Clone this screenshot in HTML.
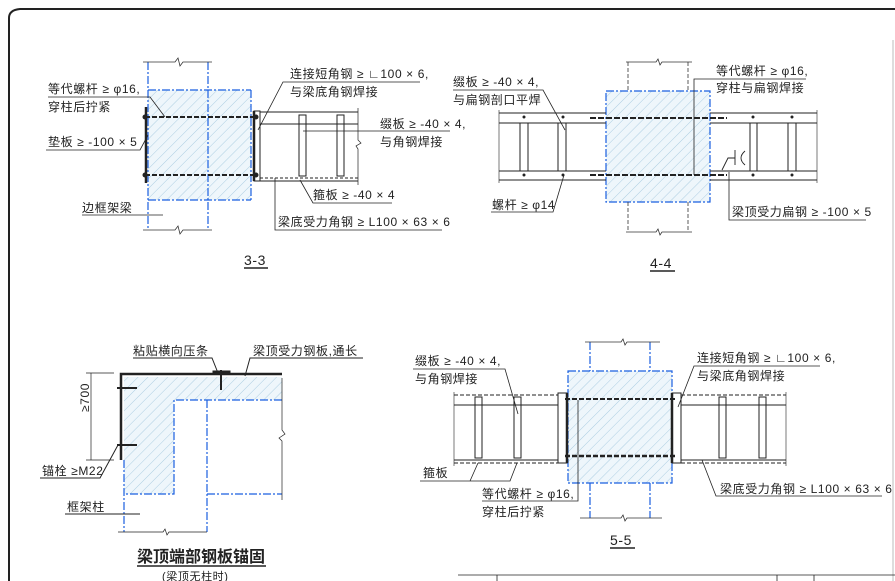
<!DOCTYPE html>
<html><head><meta charset="utf-8"><style>
html,body{margin:0;padding:0;background:#fff;}
svg{display:block;}
text{font-family:"Liberation Sans","Noto Sans CJK SC",sans-serif;font-size:12px;fill:#222;letter-spacing:0.6px;}
</style></head><body>
<svg width="895" height="581" viewBox="0 0 895 581" xmlns="http://www.w3.org/2000/svg">
<defs>
<pattern id="h" width="7" height="7" patternUnits="userSpaceOnUse" patternTransform="rotate(45)">
<rect width="7" height="7" fill="#eef6fb"/><line x1="0" y1="0" x2="0" y2="7" stroke="#9cc4dc" stroke-width="0.8"/>
</pattern>
</defs>
<g fill="none" stroke="#222">
<path d="M9 581 V18 Q9 10 20 9 H895" stroke-width="2"/>
<line x1="893" y1="40" x2="893" y2="581" stroke="#bbb"/>
</g>

<!-- 3-3 -->
<rect x="148" y="90" width="103" height="110" fill="url(#h)"/>
<g fill="none" stroke="#1a5fe0" stroke-width="1.2" stroke-dasharray="8 2 2 2">
<line x1="148" y1="62" x2="148" y2="230"/><line x1="208" y1="62" x2="208" y2="230"/>
<line x1="148" y1="90" x2="251" y2="90"/><line x1="148" y1="200" x2="251" y2="200"/>
<line x1="251" y1="90" x2="251" y2="200"/>
</g>
<g fill="none" stroke="#333" stroke-width="0.8">
<path d="M143 62 H175 L178 58 L180 66 L183 62 H212"/>
<path d="M143 230 H175 L178 226 L180 234 L183 230 H212"/>
</g>
<g stroke="#222" fill="none">
<line x1="146" y1="107" x2="146" y2="183" stroke-width="2.5"/>
<line x1="254" y1="111" x2="254" y2="181" stroke-width="2.5"/>
<rect x="254" y="111" width="6" height="70" stroke-width="1"/>
<line x1="145" y1="117" x2="256" y2="117" stroke-width="2" stroke-dasharray="5 2"/>
<line x1="145" y1="175" x2="256" y2="175" stroke-width="2" stroke-dasharray="5 2"/>
<line x1="260" y1="112" x2="358" y2="112"/><line x1="260" y1="124" x2="358" y2="124"/>
<line x1="260" y1="178" x2="358" y2="178" stroke-dasharray="3 2"/><line x1="260" y1="181" x2="358" y2="181"/>
<rect x="299" y="115" width="7" height="61"/><rect x="337" y="115" width="7" height="61"/>
<path d="M358 108 V140 L361 143 L356 146 L358 149 V185" stroke-width="0.7"/>
</g>
<circle cx="145" cy="117" r="2.5" fill="#222"/><circle cx="145" cy="175" r="2.5" fill="#222"/>
<circle cx="256" cy="117" r="2.5" fill="#222"/><circle cx="256" cy="175" r="2.5" fill="#222"/>
<g stroke="#222" stroke-width="0.8" fill="none">
<path d="M48 97 H150 L165 117"/><path d="M46 150 H140 L148 135"/><path d="M82 215 H163"/>
<path d="M420 82 H283 L258 130"/><path d="M450 131 H303"/><path d="M392 203 H313 L300 180"/>
<path d="M442 230 H275 V178"/><path d="M244 268 H268" stroke-width="1.5"/>
</g>
<text x="48" y="93">等代螺杆 ≥ φ16,</text><text x="48" y="111">穿柱后拧紧</text>
<text x="48" y="146">垫板 ≥ -100 × 5</text><text x="82" y="212">边框架梁</text>
<text x="290" y="78">连接短角钢 ≥ ∟100 × 6,</text><text x="290" y="96">与梁底角钢焊接</text>
<text x="380" y="128">缀板 ≥ -40 × 4,</text><text x="380" y="146">与角钢焊接</text>
<text x="313" y="199">箍板 ≥ -40 × 4</text><text x="278" y="226">梁底受力角钢 ≥ L100 × 63 × 6</text>
<text x="244" y="265" style="font-size:14px">3-3</text>

<!-- 4-4 -->
<rect x="606" y="91" width="104" height="111" fill="url(#h)"/>
<g fill="none" stroke="#1a5fe0" stroke-width="1.2" stroke-dasharray="8 2 2 2"><rect x="606" y="91" width="104" height="111"/></g>
<g fill="none" stroke="#333" stroke-width="0.8" stroke-dasharray="4 2">
<line x1="628" y1="62" x2="628" y2="91"/><line x1="688" y1="62" x2="688" y2="91"/>
<line x1="628" y1="202" x2="628" y2="232"/><line x1="688" y1="202" x2="688" y2="232"/>
</g>
<g fill="none" stroke="#333" stroke-width="0.8">
<path d="M626 62 H656 L658 59 L660 65 L662 62 H692"/><path d="M626 232 H656 L658 229 L660 235 L662 232 H692"/>
</g>
<g stroke="#222" fill="none">
<line x1="499" y1="113" x2="606" y2="113"/><line x1="499" y1="123" x2="606" y2="123"/>
<line x1="499" y1="171" x2="606" y2="171"/><line x1="499" y1="180" x2="606" y2="180"/>
<line x1="710" y1="113" x2="817" y2="113"/><line x1="710" y1="123" x2="817" y2="123"/>
<line x1="710" y1="171" x2="817" y2="171"/><line x1="710" y1="180" x2="817" y2="180"/>
<line x1="520" y1="123" x2="520" y2="171"/><line x1="528" y1="123" x2="528" y2="171"/>
<line x1="558" y1="123" x2="558" y2="171"/><line x1="566" y1="123" x2="566" y2="171"/>
<line x1="750" y1="123" x2="750" y2="171"/><line x1="757" y1="123" x2="757" y2="171"/>
<line x1="788" y1="123" x2="788" y2="171"/><line x1="796" y1="123" x2="796" y2="171"/>
<line x1="499" y1="110" x2="499" y2="183" stroke-width="0.6"/><line x1="817" y1="110" x2="817" y2="183" stroke-width="0.6"/>
<line x1="590" y1="118" x2="727" y2="118" stroke-width="2" stroke-dasharray="6 2"/>
<line x1="590" y1="175" x2="727" y2="175" stroke-width="2" stroke-dasharray="6 2"/>
<path d="M735 150 V165 M745 151 Q737 158 745 165 M735 158 H728 L722 170" stroke-width="0.9"/>
</g>
<g fill="#222"><circle cx="524" cy="117" r="1.5"/><circle cx="563" cy="117" r="1.5"/><circle cx="753" cy="117" r="1.5"/><circle cx="792" cy="117" r="1.5"/>
<circle cx="524" cy="175" r="1.5"/><circle cx="563" cy="175" r="1.5"/><circle cx="753" cy="175" r="1.5"/><circle cx="792" cy="175" r="1.5"/></g>
<g stroke="#222" stroke-width="0.8" fill="none">
<path d="M453 90 H543 L565 130"/><path d="M806 79 H694 V175"/><path d="M491 212 H553 L564 175"/>
<path d="M866 220 H729 V172"/><path d="M650 271 H675" stroke-width="1.5"/>
</g>
<text x="453" y="86">缀板 ≥ -40 × 4,</text><text x="453" y="104">与扁钢剖口平焊</text>
<text x="716" y="75">等代螺杆 ≥ φ16,</text><text x="716" y="92">穿柱与扁钢焊接</text>
<text x="492" y="209">螺杆 ≥ φ14</text><text x="732" y="216">梁顶受力扁钢 ≥ -100 × 5</text>
<text x="650" y="268" style="font-size:14px">4-4</text>

<!-- 梁顶端部 -->
<path d="M124 377 H282 V400 H174 V494 H124 Z" fill="url(#h)"/>
<g fill="none" stroke="#1a5fe0" stroke-width="1.2" stroke-dasharray="8 2 2 2">
<path d="M282 400 H174 V494 H124"/><path d="M124 460 V532"/><path d="M207 400 V532"/><path d="M207 494 H282"/>
</g>
<g stroke="#222" fill="none">
<path d="M121 460 V374 H282" stroke-width="2.5"/>
<path d="M282 378 V430 L285 434 L279 438 L282 441 V500" stroke-width="0.7"/>
<path d="M118 532 H163 L165 529 L167 535 L169 532 H207" stroke-width="0.7"/>
<line x1="117" y1="388" x2="137" y2="388" stroke-width="2"/><line x1="117" y1="445" x2="137" y2="445" stroke-width="2"/>
<line x1="221" y1="370" x2="221" y2="390" stroke-width="2"/><rect x="213" y="371" width="17" height="3" fill="#222"/>
<path d="M91 373 V460 M86 373 H114 M86 460 H114" stroke-width="0.7"/>
<path d="M133 358 H212 L218 373"/><path d="M363 358 H250 L245 376"/>
<path d="M40 478 H100 L118 445"/><path d="M65 514 H140"/><path d="M137 566 H266" stroke-width="1.5"/>
</g>
<text transform="translate(89 412) rotate(-90)" font-size="11">≥700</text>
<text x="133" y="355">粘贴横向压条</text><text x="253" y="355">梁顶受力钢板,通长</text>
<text x="42" y="475">锚栓 ≥M22</text><text x="67" y="511">框架柱</text>
<text x="137" y="562" style="font-size:16px;font-weight:bold;letter-spacing:0">梁顶端部钢板锚固</text>
<text x="162" y="580" style="font-size:11px">(梁顶无柱时)</text>

<!-- 5-5 -->
<rect x="568" y="371" width="104" height="112" fill="url(#h)"/>
<g fill="none" stroke="#1a5fe0" stroke-width="1.2" stroke-dasharray="8 2 2 2">
<rect x="568" y="371" width="104" height="112"/>
<line x1="590" y1="342" x2="590" y2="371"/><line x1="650" y1="342" x2="650" y2="371"/>
<line x1="590" y1="483" x2="590" y2="518"/><line x1="650" y1="483" x2="650" y2="518"/>
</g>
<g fill="none" stroke="#333" stroke-width="0.8">
<path d="M585 342 H621 L623 339 L625 345 L627 342 H660"/><path d="M580 518 H621 L623 515 L625 521 L627 518 H662"/>
</g>
<g stroke="#222" fill="none">
<rect x="558" y="393" width="9" height="70"/><rect x="672" y="393" width="9" height="70"/>
<line x1="567" y1="393" x2="567" y2="463" stroke-width="2.5"/><line x1="672" y1="393" x2="672" y2="463" stroke-width="2.5"/>
<line x1="454" y1="395" x2="558" y2="395" stroke-dasharray="4 2"/><line x1="454" y1="405" x2="558" y2="405"/>
<line x1="454" y1="460" x2="558" y2="460"/><line x1="454" y1="463" x2="558" y2="463" stroke-dasharray="4 2"/>
<line x1="681" y1="395" x2="786" y2="395" stroke-dasharray="4 2"/><line x1="681" y1="405" x2="786" y2="405"/>
<line x1="681" y1="460" x2="786" y2="460"/><line x1="681" y1="463" x2="786" y2="463" stroke-dasharray="4 2"/>
<rect x="475" y="397" width="7" height="61"/><rect x="514" y="397" width="7" height="61"/>
<rect x="719" y="397" width="7" height="61"/><rect x="759" y="397" width="7" height="61"/>
<line x1="454" y1="392" x2="454" y2="466" stroke-width="0.6"/><line x1="786" y1="392" x2="786" y2="466" stroke-width="0.6"/>
<line x1="565" y1="399" x2="675" y2="399" stroke-width="2" stroke-dasharray="5 2"/>
<line x1="565" y1="456" x2="675" y2="456" stroke-width="2.5" stroke-dasharray="5 2"/>
</g>
<g stroke="#222" stroke-width="0.8" fill="none">
<path d="M413 369 H505 L518 414"/><path d="M820 366 H694 L678 407"/>
<path d="M420 481 H510 L517 463 M470 481 L478 463"/><path d="M482 501 H578 V400"/>
<path d="M882 496 H716 L702 460"/><path d="M610 548 H635" stroke-width="1.5"/>
<path d="M458 575 H895 M497 575 V581 M777 575 V581 M814 575 V581"/>
</g>
<text x="415" y="365">缀板 ≥ -40 × 4,</text><text x="415" y="383">与角钢焊接</text>
<text x="697" y="362">连接短角钢 ≥ ∟100 × 6,</text><text x="697" y="380">与梁底角钢焊接</text>
<text x="423" y="477">箍板</text><text x="482" y="498">等代螺杆 ≥ φ16,</text><text x="482" y="516">穿柱后拧紧</text>
<text x="720" y="493">梁底受力角钢 ≥ L100 × 63 × 6</text>
<text x="610" y="545" style="font-size:14px">5-5</text>
</svg>
</body></html>
